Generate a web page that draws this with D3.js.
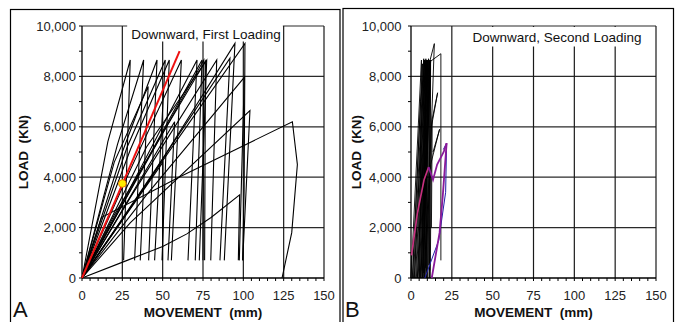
<!DOCTYPE html>
<html><head><meta charset="utf-8">
<script src="https://cdn.jsdelivr.net/npm/d3@7"></script>
<style>body{margin:0;background:#fff}svg{display:block}text{font-family:"Liberation Sans",Arial,sans-serif;white-space:pre}</style>
</head><body>
<script>
// ---------- data ----------
const xTicks = [0, 25, 50, 75, 100, 125, 150];
const yTicks = [0, 2000, 4000, 6000, 8000, 10000];
const xLabel = "MOVEMENT\u00a0 (mm)";
const yLabel = "LOAD\u00a0 (KN)";
const titleA = "Downward, First Loading";
const titleB = "Downward, Second Loading";
const panelLetters = ["A", "B"];

// Panel A: load-movement curves [movement mm, load kN]
const curvesA = [
  [[0,0],[16,5400],[29.9,8650],[25.8,700]],
  [[0,0],[22,5300],[38.2,8650],[32.6,700]],
  [[0,0],[20,4600],[41,7600],[36.1,700]],
  [[0,0],[25,5000],[46.5,8650],[41.3,700]],
  [[0,0],[28,5200],[51.6,8650],[45,700]],
  [[0,0],[30,5100],[54.1,8650],[49.6,700]],
  [[0,0],[50.2,4600],[49.9,700]],
  [[0,0],[57.4,6200],[53.3,700]],
  [[0,0],[30,4300],[61.6,8650],[55.4,700]],
  [[0,0],[35,4200],[71.3,8650],[65.7,700]],
  [[0,0],[30,3500],[74.4,8650],[70.2,700]],
  [[0,0],[40,5200],[77.3,8650],[72.7,700]],
  [[0,0],[25,2900],[75.5,8650],[75,700]],
  [[0,0],[20,2500],[76.5,8600],[76,700]],
  [[0,0],[30,3200],[83.5,8650],[79.8,700]],
  [[0,0],[35,3300],[91.7,8720],[85.5,700]],
  [[0,0],[40,3700],[94.8,9310],[88.2,700]],
  [[0,0],[45,4200],[101,9310],[100.5,3500],[99.6,700]],
  [[0,0],[40,3300],[100.6,7960],[97.5,700]],
  [[0,0],[30,2200],[104.1,6640],[99.6,700]],
  [[0,0],[26,650],[50,1250],[65,1750],[80,2400],[97.7,3300],[96.9,700]],
  [[0,0],[12,2400],[60.7,4020],[130.4,6200],[133.5,4500],[130,1800],[124,0]]
];
const redLineA = [[0,0],[60.5,9000]];
const yellowPointA = [25, 3750];

// Panel B curves
const curvesB = [
  [[0,0],[6.4,8650],[5.2,0]],
  [[0.8,0],[7.0,8500],[6.0,0]],
  [[1.5,0],[7.8,8700],[6.8,300]],
  [[2.2,0],[8.2,8650],[7.3,0]],
  [[2.8,0],[8.8,8600],[7.8,200]],
  [[3.3,0],[9.1,8700],[8.4,0]],
  [[3.9,0],[9.5,8650],[8.8,400]],
  [[4.4,0],[9.9,8600],[9.2,0]],
  [[5.0,0],[10.3,8650],[9.7,300]],
  [[5.6,0],[10.7,8700],[10.1,0]],
  [[6.1,0],[11.2,8650],[10.6,500]],
  [[6.8,0],[11.6,8600],[11.0,0]],
  [[7.4,0],[12.0,8650],[11.5,300]],
  [[1.0,0],[5.8,7000],[8.6,8650],[8.0,0]],
  [[2.0,0],[7.5,7500],[10.0,8650],[9.5,0]],
  [[4.0,0],[9.5,7800],[11.8,8650],[11.3,0]],
  [[6.0,0],[11.5,8600],[14.3,9300],[12.5,6000],[11.8,0]],
  [[7.0,0],[12.0,8600],[18.3,8900],[18.3,700]],
  [[8.0,0],[12.5,6000],[16.3,7350],[13.0,6300],[12.5,2000]],
  [[8.5,0],[12.0,4500],[17.5,5900],[13.5,5000]],
  [[0,0],[0.3,1000]]
];
const magentaB = [[0.3,900],[4,2600],[8,3900],[10.8,4400]];
const purpleB1 = [[12.7,0],[17.5,1800],[19.5,3300],[21.8,5350]];
const purpleB2 = [[10.8,4400],[13.5,3900],[16,4500],[20,5000],[21.8,5350]];
const blueB = [[8.5,0],[17,1500],[21.2,3400],[21.8,5350],[19.8,5100]];

// ---------- drawing ----------
const W = 678, H = 322;
const svg = d3.select("body").append("svg").attr("width", W).attr("height", H);

function panel(cfg) {
  const x = d3.scaleLinear().domain([0,150]).range([cfg.x0, cfg.x1]);
  const y = d3.scaleLinear().domain([0,10000]).range([278, 26]);
  const g = svg.append("g");
  g.append("rect").attr("x", cfg.fx0).attr("y", cfg.fy0)
    .attr("width", cfg.fx1 - cfg.fx0).attr("height", 340)
    .attr("fill", "none").attr("stroke", "#000").attr("stroke-width", 1.2);
  g.selectAll(".gy").data(yTicks.slice(1)).join("line")
    .attr("x1", x(0)).attr("x2", x(150)).attr("y1", d => y(d)).attr("y2", d => y(d))
    .attr("stroke", "#2a2a2a").attr("stroke-width", 1.2);
  g.selectAll(".gx").data(xTicks.slice(1)).join("line")
    .attr("x1", d => x(d)).attr("x2", d => x(d)).attr("y1", y(0)).attr("y2", y(10000))
    .attr("stroke", "#1a1a1a").attr("stroke-width", 1.2);
  g.selectAll(".mx").data(d3.range(0, 151, 5)).join("line")
    .attr("x1", d => x(d)).attr("x2", d => x(d)).attr("y1", y(0)).attr("y2", y(0) + 3)
    .attr("stroke", "#000").attr("stroke-width", 1);
  g.selectAll(".my").data(d3.range(0, 10001, 1000)).join("line")
    .attr("x1", x(0) - 3).attr("x2", x(0)).attr("y1", d => y(d)).attr("y2", d => y(d))
    .attr("stroke", "#000").attr("stroke-width", 1);
  g.append("line").attr("x1", x(0)).attr("x2", x(150)).attr("y1", y(0)).attr("y2", y(0)).attr("stroke", "#000").attr("stroke-width", 1.3);
  g.append("line").attr("x1", x(0)).attr("x2", x(0)).attr("y1", y(0)).attr("y2", y(10000)).attr("stroke", "#000").attr("stroke-width", 1.3);

  g.append("rect").attr("x", x(cfg.box[0])).attr("y", cfg.box[2])
    .attr("width", x(cfg.box[1]) - x(cfg.box[0])).attr("height", cfg.box[3] - cfg.box[2])
    .attr("fill", "#fff");
  g.append("text").attr("x", cfg.tx).attr("y", cfg.ty).attr("text-anchor", "middle")
    .attr("font-size", 13.5).attr("fill", "#111").text(cfg.title);

  g.selectAll(".xl").data(xTicks).join("text")
    .attr("x", d => x(d)).attr("y", 300).attr("text-anchor", "middle")
    .attr("font-size", 13).attr("fill", "#222").text(d => d);
  g.selectAll(".yl").data(yTicks).join("text")
    .attr("x", cfg.ylx).attr("y", d => y(d) + 4.5).attr("text-anchor", "end")
    .attr("font-size", 13).attr("fill", "#222").text(d3.format(","));
  g.append("text").attr("x", (cfg.x0 + cfg.x1) / 2).attr("y", 317).attr("text-anchor", "middle")
    .attr("font-size", 13.5).attr("font-weight", "bold").attr("fill", "#111").text(xLabel);
  g.append("text").attr("transform", `translate(${cfg.ytx},152) rotate(-90)`).attr("text-anchor", "middle")
    .attr("font-size", 13.5).attr("font-weight", "bold").attr("fill", "#111").text(yLabel);
  g.append("text").attr("x", cfg.lx).attr("y", 317).attr("font-size", 22).attr("fill", "#111").text(cfg.letter);

  const line = d3.line().x(d => x(d[0])).y(d => y(d[1]));
  const plot = g.append("g");
  return {x, y, line, plot};
}

// Panel A
const A = panel({x0: 82, x1: 324, fx0: 10.5, fx1: 340, fy0: 9.5, box: [28, 124.5, 23, 41.5],
  tx: 206, ty: 38.5, title: titleA, ylx: 76, ytx: 28, lx: 13, letter: panelLetters[0]});
A.plot.selectAll(".c").data(curvesA).join("path").attr("d", A.line)
  .attr("fill", "none").attr("stroke", "#000").attr("stroke-width", 1.1);
A.plot.append("path").datum(redLineA).attr("d", A.line).attr("fill", "none")
  .attr("stroke", "#ee1111").attr("stroke-width", 2);
A.plot.append("circle").attr("cx", A.x(yellowPointA[0])).attr("cy", A.y(yellowPointA[1])).attr("r", 3.8)
  .attr("fill", "#ffee00").attr("stroke", "#f08000").attr("stroke-width", 1);

// Panel B
const B = panel({x0: 411, x1: 656, fx0: 343, fx1: 673.5, fy0: 8.5, box: [25.7, 149.3, 27, 46.5],
  tx: 557, ty: 41.5, title: titleB, ylx: 401.5, ytx: 361, lx: 345, letter: panelLetters[1]});
B.plot.selectAll(".c").data(curvesB).join("path").attr("d", B.line)
  .attr("fill", "none").attr("stroke", "#000").attr("stroke-width", 0.9);
B.plot.append("path").datum(blueB).attr("d", B.line).attr("fill", "none").attr("stroke", "#2020a8").attr("stroke-width", 1);
B.plot.append("path").datum(magentaB).attr("d", B.line).attr("fill", "none").attr("stroke", "#c8307f").attr("stroke-width", 1.6);
B.plot.append("path").datum(purpleB1).attr("d", B.line).attr("fill", "none").attr("stroke", "#8a1a9a").attr("stroke-width", 1.8);
B.plot.append("path").datum(purpleB2).attr("d", B.line).attr("fill", "none").attr("stroke", "#8a1a9a").attr("stroke-width", 1.8);
</script>
</body></html>
